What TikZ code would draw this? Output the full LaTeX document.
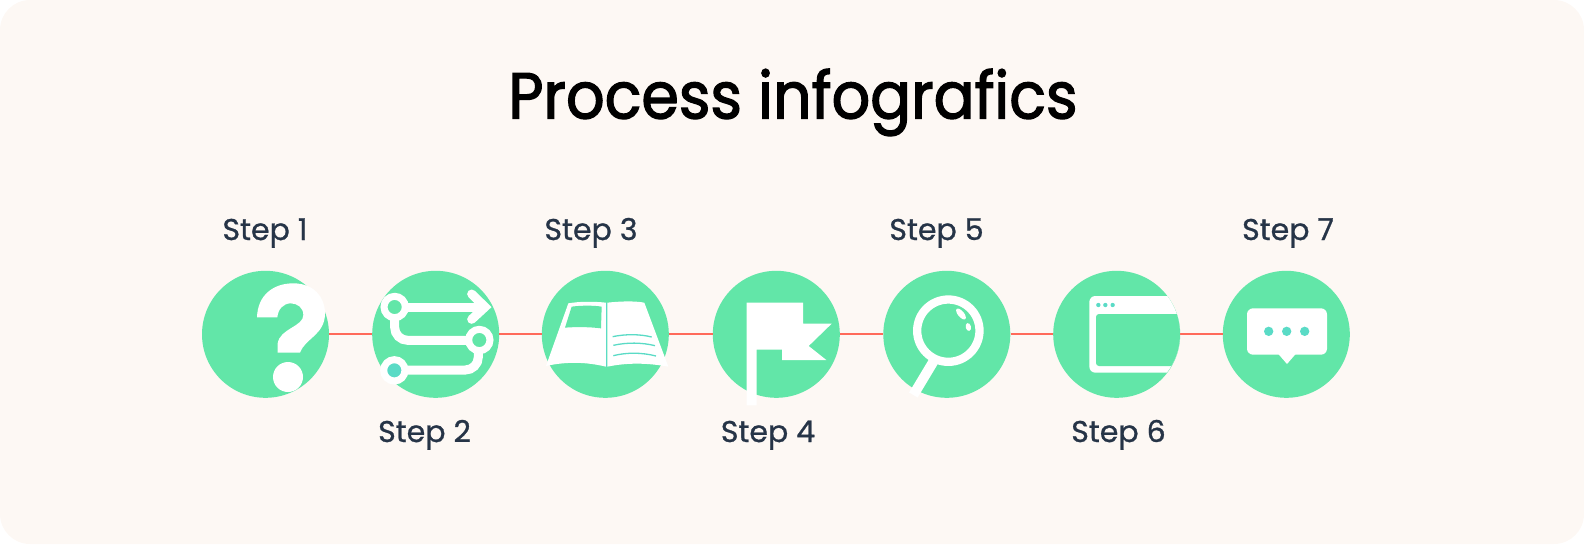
\documentclass[tikz,border=0pt]{standalone}
\usepackage{fontspec}
\setmainfont{Poppins}
\newfontfamily\titlefont[FakeBold=2,FakeStretch=0.93]{Poppins}
\newfontfamily\stepfont[FakeBold=0.9]{Poppins}
\definecolor{paper}{HTML}{FDF8F4}
\definecolor{mint}{HTML}{62E6A8}
\definecolor{teal}{HTML}{5ADBC6}
\definecolor{coral}{HTML}{FF6A5A}
\definecolor{slate}{HTML}{263447}
\tikzset{
  stepdisc/.style={circle,fill=mint,minimum size=127pt,inner sep=0pt},
  steplabel/.style={anchor=base,text=slate,font=\stepfont\fontsize{30}{30}\selectfont},
  icon/.style={scale=1/3},
}
\begin{document}
\begin{tikzpicture}[x=1pt,y=-1pt]
        \useasboundingbox (0,0) rectangle (1584,544);
        \fill [paper,rounded corners=30pt] (0,0) rectangle (1584,544);
        \node (title) [anchor=base,font=\titlefont\fontsize{65}{65}\selectfont] at (793,118.5) {Process infografics};
        \node (disc1) [stepdisc] at (265.5,334.3) {};
        \node (disc2) [stepdisc] at (435.7,334.3) {};
        \node (disc3) [stepdisc] at (605.3,334.3) {};
        \node (disc4) [stepdisc] at (776.3,334.3) {};
        \node (disc5) [stepdisc] at (946.8,334.3) {};
        \node (disc6) [stepdisc] at (1116.7,334.3) {};
        \node (disc7) [stepdisc] at (1286.3,334.3) {};
        \draw [coral,line width=2pt] (disc1) -- (disc2);
        \draw [coral,line width=2pt] (disc2) -- (disc3);
        \draw [coral,line width=2pt] (disc3) -- (disc4);
        \draw [coral,line width=2pt] (disc4) -- (disc5);
        \draw [coral,line width=2pt] (disc5) -- (disc6);
        \draw [coral,line width=2pt] (disc6) -- (disc7);
        \node (step1) [steplabel] at (265,240) {Step 1};
        \node (step2) [steplabel] at (424.5,442) {Step 2};
        \node (step3) [steplabel] at (591,240) {Step 3};
        \node (step4) [steplabel] at (768,442) {Step 4};
        \node (step5) [steplabel] at (936.5,240) {Step 5};
        \node (step6) [steplabel] at (1118.5,442) {Step 6};
        \node (step7) [steplabel] at (1288,240) {Step 7};
        % question mark
        \begin{scope}[shift={(190,260)},icon]
          \fill [white] (201,172) .. controls (203,105) and (250,70) .. (310,70) .. controls (370,70) and (405,110) .. (405,160) .. controls (405,225) and (345,235) .. (330,278) -- (263,278) -- (263,250) .. controls (270,205) and (340,200) .. (340,165) .. controls (340,143) and (322,130) .. (302,130) .. controls (280,130) and (264,148) .. (262,172) -- cycle;
          \fill [white] (294,351) circle [radius=45];
        \end{scope}
        % route
        \begin{scope}[shift={(190,260)},icon]
          \draw [white,line width=9pt] (640,141) -- (880,141);
          \draw [white,line width=9pt,line cap=round,line join=miter] (845,102) -- (885,141) -- (845,178);
          \draw [white,line width=9pt,rounded corners=13pt] (614,170) -- (614,241) -- (840,241);
          \draw [white,line width=9pt,rounded corners=13pt] (865,270) -- (865,330) -- (640,330);
          \filldraw [fill=mint,draw=white,line width=7pt] (614,141) circle [radius=32];
          \filldraw [fill=mint,draw=white,line width=7pt] (868,240) circle [radius=32];
          \filldraw [fill=teal,draw=white,line width=7pt] (613,331) circle [radius=32];
        \end{scope}
        % open book
        \begin{scope}[shift={(530,260)},icon]
          \fill [white] (48,318) -- (115,130) .. controls (150,124) and (190,124) .. (228,128) -- (228,320) .. controls (170,306) and (110,304) .. (48,318) -- cycle;
          \fill [white] (232,128) .. controls (270,124) and (310,122) .. (343,128) -- (415,320) .. controls (350,308) and (290,308) .. (232,320) -- cycle;
          \fill [mint] (125,140) .. controls (155,136) and (190,136) .. (215,140) -- (213,205) .. controls (180,201) and (140,200) .. (105,203) -- cycle;
          \draw [teal,line width=1.3pt] (230,128) -- (230,320);
          \draw [teal,line width=1.3pt] (248,230) .. controls (285,222) and (330,222) .. (365,231);
          \draw [teal,line width=1.3pt] (250,256) .. controls (290,247) and (335,247) .. (375,257);
          \draw [teal,line width=1.3pt] (250,287) .. controls (290,277) and (335,277) .. (378,288);
        \end{scope}
        % flag
        \begin{scope}[shift={(530,260)},icon]
          \fill [white] (650,128) -- (819,128) -- (819,191) -- (905,191) -- (836,258) -- (889,300) -- (756,300) -- (756,269) -- (680,269) -- (680,436) -- (650,436) -- cycle;
        \end{scope}
        % magnifier
        \begin{scope}[shift={(870,260)},icon]
          \draw [white,line width=10pt] (190,305) -- (130,405);
          \filldraw [fill=mint,draw=white,line width=8.3pt] (235,212) circle [radius=93.5];
          \fill [white,rotate around={40:(273,162)}] (273,162) ellipse [x radius=9,y radius=20];
          \fill [white,rotate around={15:(295,201)}] (295,201) ellipse [x radius=8,y radius=12];
        \end{scope}
        % browser window
        \begin{scope}[shift={(870,260)},icon]
          \clip (740,222) circle [radius=190];
          \fill [white,rounded corners=6pt] (658,108) rectangle (1000,338);
          \fill [mint,rounded corners=3pt] (678,162) rectangle (1000,318);
          \fill [teal] (685,135) circle [radius=6.5];
          \fill [teal] (706,135) circle [radius=6.5];
          \fill [teal] (728,135) circle [radius=6.5];
        \end{scope}
        % speech bubble
        \begin{scope}[shift={(1200,260)},icon]
          \fill [white,rounded corners=6pt] (141,145) rectangle (381,284);
          \fill [white] (235,282) -- (261,312) -- (287,282) -- cycle;
          \fill [teal] (206,214) circle [radius=14];
          \fill [teal] (260,214) circle [radius=14];
          \fill [teal] (314,214) circle [radius=14];
        \end{scope}
      \end{tikzpicture}
\end{document}
